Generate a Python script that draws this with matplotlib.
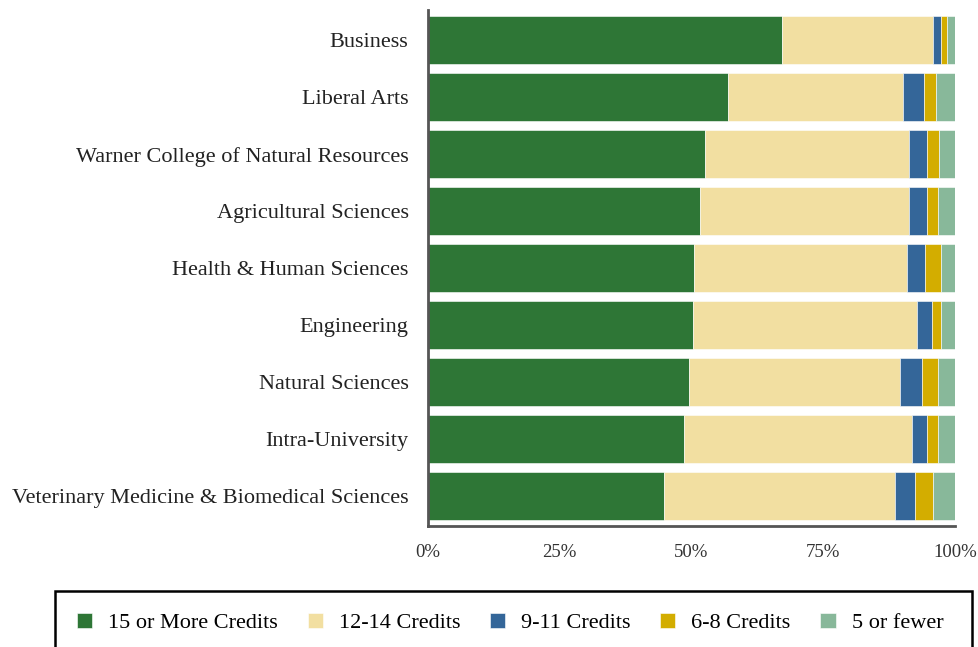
import matplotlib.pyplot as plt
from matplotlib.patches import Rectangle
import numpy as np

colleges = ["Business", "Liberal Arts", "Warner College of Natural Resources",
            "Agricultural Sciences", "Health & Human Sciences", "Engineering",
            "Natural Sciences", "Intra-University",
            "Veterinary Medicine & Biomedical Sciences"]
series = ["15 or More Credits", "12-14 Credits", "9-11 Credits", "6-8 Credits", "5 or fewer"]

# percent of students per credit band
c15 = [67.1, 57.0, 52.5, 51.7, 50.4, 50.2, 49.5, 48.6, 44.7]
c12 = [28.7, 33.1, 38.8, 39.6, 40.4, 42.6, 40.0, 43.3, 43.9]
c9 = [1.5, 4.0, 3.3, 3.3, 3.5, 2.8, 4.2, 2.7, 3.9]
c6 = [1.2, 2.3, 2.4, 2.1, 3.0, 1.8, 3.1, 2.1, 3.4]
c5 = [1.5, 3.6, 3.0, 3.3, 2.7, 2.6, 3.2, 3.3, 4.1]

colors = ["#2E7636", "#F2DFA1", "#346699", "#D3AD00", "#88B89A"]

plt.rcParams['font.family'] = ['Liberation Serif', 'DejaVu Serif']

fig = plt.figure(figsize=(9.79, 6.47), dpi=100)
ax = fig.add_axes([428/979, 1-526/647, (955-428)/979, (526-10)/647])

y = np.arange(len(colleges))
left = np.zeros(len(colleges))
for name, vals, col in zip(series, [c15, c12, c9, c6, c5], colors):
    v = np.array(vals) / 100
    ax.barh(y, v, left=left, height=0.84, color=col, label=name,
            edgecolor="white", linewidth=0.4)
    left += v

ax.set_xlim(0, 1)
ax.set_ylim(8.52, -0.53)
ax.set_yticks(y)
ax.set_yticklabels(colleges, fontsize=16, color="#222222")
ax.set_xticks([0, 0.25, 0.5, 0.75, 1.0])
ax.set_xticklabels(["0%", "25%", "50%", "75%", "100%"], fontsize=13.5, color="#333333")
ax.tick_params(axis='y', length=0, pad=14)
ax.tick_params(axis='x', length=0, pad=13)
for s in ["top", "right"]:
    ax.spines[s].set_visible(False)
for s in ["left", "bottom"]:
    ax.spines[s].set_color("#555555")
    ax.spines[s].set_linewidth(2)

# legend frame runs past the bottom edge
fig.patches.append(Rectangle((55/979, -0.05), (972-55)/979, 0.05 + 1-591/647,
                             transform=fig.transFigure, fill=False,
                             edgecolor="black", linewidth=1.8))
handles, labels = ax.get_legend_handles_labels()
fig.legend(handles, labels, loc="center", bbox_to_anchor=(0.521, 1-623/647),
           ncol=5, frameon=False, fontsize=16, handlelength=0.68, handleheight=0.68,
           columnspacing=1.34, handletextpad=0.72)

fig.savefig("out.png", dpi=100)
